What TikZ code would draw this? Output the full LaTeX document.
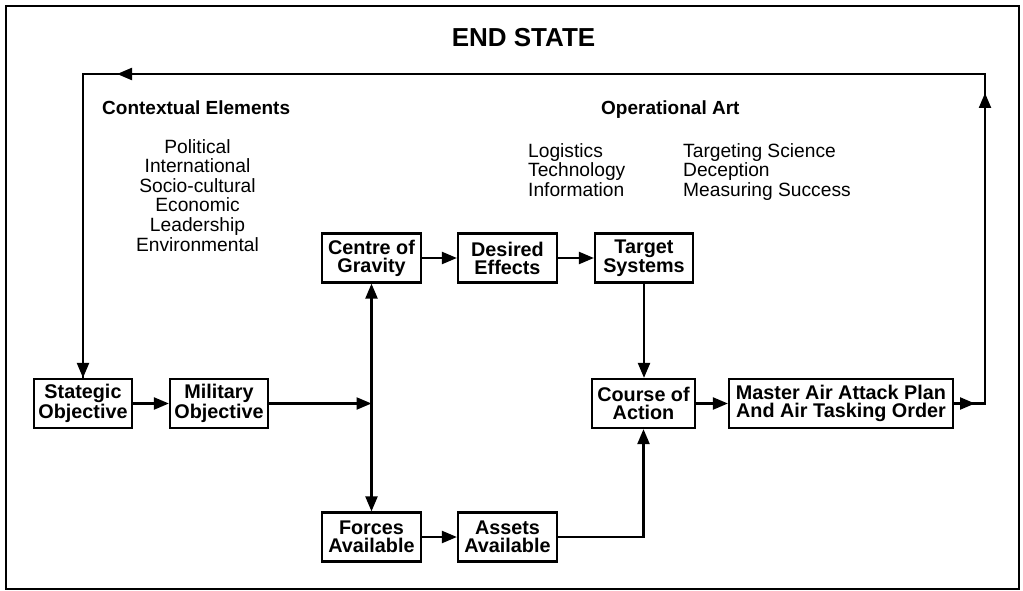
\documentclass[tikz,border=0pt]{standalone}
\usepackage{fontspec}
\setmainfont{Liberation Sans}
\usetikzlibrary{arrows.meta,calc}
\begin{document}
\begin{tikzpicture}[x=1pt,y=-1pt,
  box/.style={draw,line width=2.2pt,inner sep=0pt,align=center,
    minimum height=49pt,minimum width=98pt,
    font=\fontsize{19.8}{18}\selectfont\bfseries},
  link/.style={line width=2.2pt},
  arr/.style={line width=2.2pt,-{Triangle[length=15pt,width=12pt]}},
  both/.style={line width=2.2pt,{Triangle[length=15pt,width=12pt]}-{Triangle[length=15pt,width=12pt]}},
  head/.style={inner sep=0pt,font=\fontsize{19}{19}\selectfont\bfseries},
  list/.style={inner sep=0pt,font=\fontsize{19.2}{19.6}\selectfont}]
\useasboundingbox (0,0) rectangle (1023,591);
% outer frame
\draw[line width=2.2pt] (6,6) rectangle (1019,589);
\node[inner sep=0pt,anchor=base,font=\fontsize{26}{26}\selectfont\bfseries] (title) at (523.5,47) {END STATE};

% headings and lists
\node[head,anchor=base west] (ctx) at (102,115) {Contextual Elements};
\node[head,anchor=base west] (opart) at (601,115) {Operational Art};
\node[list,anchor=north,align=center] (ctxlist) at (197.5,139)
  {Political\\International\\Socio-cultural\\Economic\\Leadership\\Environmental};
\node[list,anchor=north west,align=left] (oplist1) at (528,143)
  {Logistics\\Technology\\Information};
\node[list,anchor=north west,align=left] (oplist2) at (683,143)
  {Targeting Science\\Deception\\Measuring Success};

% boxes
\node[box] (so) at (83,403.5) {Stategic\\Objective};
\node[box] (mo) at (219,403.5) {Military\\Objective};
\node[box,minimum width=99pt] (cog) at (371.5,258) {Centre of\\Gravity};
\node[box,minimum width=99pt] (de) at (507.5,258) {Desired\\Effects};
\node[box] (ts) at (644,258) {Target\\Systems};
\node[box,minimum width=103pt] (coa) at (643.5,403.5) {Course of\\Action};
\node[box,minimum width=224pt] (maap) at (841,403.5) {Master Air Attack Plan\\And Air Tasking Order};
\node[box,minimum width=99pt] (fa) at (371.5,537) {Forces\\Available};
\node[box,minimum width=99pt] (aa) at (507.5,537) {Assets\\Available};

% connectors
\draw[arr] (so) -- (mo);
\draw[arr] (mo.east) -- (mo.east -| cog);
\draw[both] (cog.south) -- (fa.north);
\draw[arr] (cog) -- (de);
\draw[arr] (de) -- (ts);
\draw[arr] (ts.south) -- (ts.south |- coa.north);
\draw[arr] (fa) -- (aa);
\draw[arr] (aa.east) -| (coa.south);
\draw[arr] (coa) -- (maap);

% feedback loop back to the strategic objective
\coordinate (rc) at (985,403.5);
\coordinate (tr) at (985,74);
\coordinate (tl) at (83,74);
\draw[link,line join=miter] (maap.east) -- (rc) -- (tr) -- (tl) -- (so.north);
\draw[arr] (maap.east) -- ([xshift=-10pt]rc);
\draw[arr] (rc) -- ([yshift=-19pt]tr);
\draw[arr] (tr) -- ([xshift=34pt]tl);
\draw[arr] (tl) -- (so.north);
\end{tikzpicture}
\end{document}
